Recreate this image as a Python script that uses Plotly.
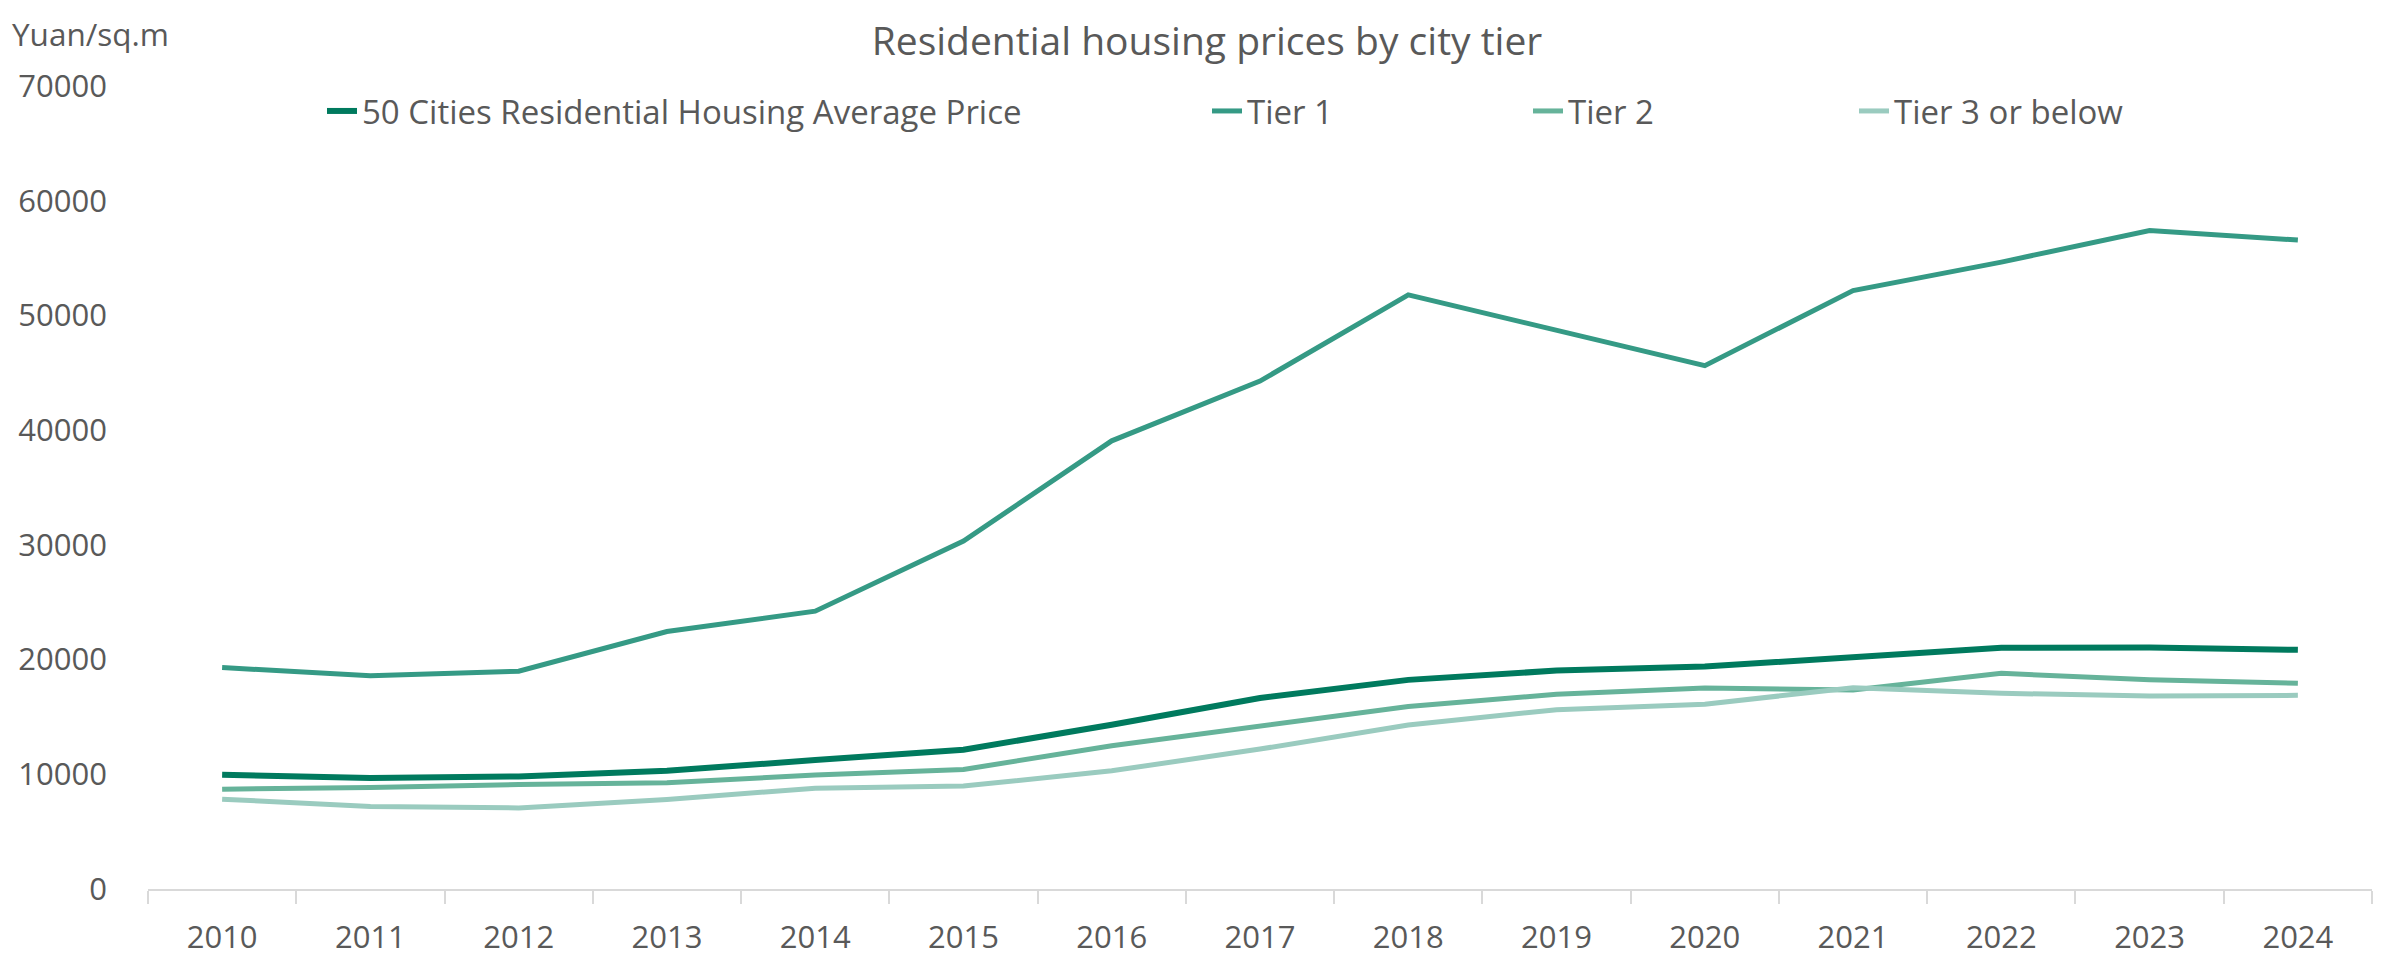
import plotly.graph_objects as go

years = [str(y) for y in range(2010, 2025)]
avg_50 = [9960, 9670, 9810, 10310, 11240, 12140, 14320, 16650, 18230, 19040, 19390, 20260, 21020, 21050, 20850]
tier1 = [19300, 18600, 18980, 22450, 24220, 30330, 39070, 44280, 51790, 48700, 45620, 52170, 54650, 57400, 56570]
tier2 = [8705, 8850, 9110, 9260, 9930, 10420, 12490, 14150, 15900, 16970, 17530, 17350, 18800, 18250, 17930]
tier3 = [7830, 7190, 7070, 7800, 8790, 8970, 10300, 12200, 14300, 15630, 16100, 17550, 17060, 16830, 16880]

names = ["50 Cities Residential Housing Average Price", "Tier 1", "Tier 2", "Tier 3 or below"]
series = [avg_50, tier1, tier2, tier3]
colors = ["#007A5E", "#359A85", "#66B39A", "#9ACBBF"]
widths = [6, 5, 5, 5]
legend_ids = ["legend", "legend2", "legend3", "legend4"]

# the page body has an 8px default margin, so the figure is sized to fit the window
W, H = 2384, 951
L, R, T, B = 140, 20, 78, 70
pw = W - L - R
ph = H - T - B
text_px = [363, 1248, 1569, 1895]

FONT = "Open Sans"
GREY = "#595959"

fig = go.Figure()
for n, s, c, w, lg in zip(names, series, colors, widths, legend_ids):
    fig.add_trace(go.Scatter(x=years, y=s, name=n, mode="lines",
                             line=dict(color=c, width=w), legend=lg))

layout_legends = {}
for lg, px in zip(legend_ids, text_px):
    layout_legends[lg] = dict(
        x=(px - 49 - L) / pw, xanchor="left",
        y=(H - B - 103) / ph, yanchor="middle",
        orientation="h", bgcolor="rgba(0,0,0,0)",
        font=dict(family=FONT, size=33, color=GREY),
        itemwidth=30, tracegroupgap=0,
    )

fig.update_layout(
    width=W, height=H,
    margin=dict(l=L, r=R, t=T, b=B, pad=0, autoexpand=False),
    paper_bgcolor="white", plot_bgcolor="white",
    font=dict(family=FONT, color=GREY, size=31),
    title=dict(text="Residential housing prices by city tier", x=1199 / W, xanchor="center",
               xref="container", y=1 - 33 / H, yanchor="middle", yref="container",
               font=dict(family=FONT, size=39, color=GREY)),
    showlegend=True,
    **layout_legends,
)

fig.update_xaxes(
    type="category", range=[-0.5, 14.5],
    showgrid=False, showline=True, linecolor="#D9D9D9", linewidth=2,
    ticks="outside", tickson="boundaries", ticklen=13, tickcolor="#D9D9D9", tickwidth=1.5,
    tickfont=dict(family=FONT, size=31, color=GREY),
    ticklabelstandoff=20, zeroline=False,
)
fig.update_yaxes(
    range=[0, 70000], dtick=10000, tick0=0,
    showgrid=False, showline=False, zeroline=False, ticks="",
    tickfont=dict(family=FONT, size=31, color=GREY),
    ticklabelstandoff=40, tickformat="d",
)

fig.add_annotation(text="Yuan/sq.m", xref="paper", yref="paper",
                   x=(2 - L) / pw, xanchor="left", y=(H - B - 26) / ph, yanchor="middle",
                   showarrow=False, font=dict(family=FONT, size=31.5, color=GREY))

fig.write_html("out.html")
